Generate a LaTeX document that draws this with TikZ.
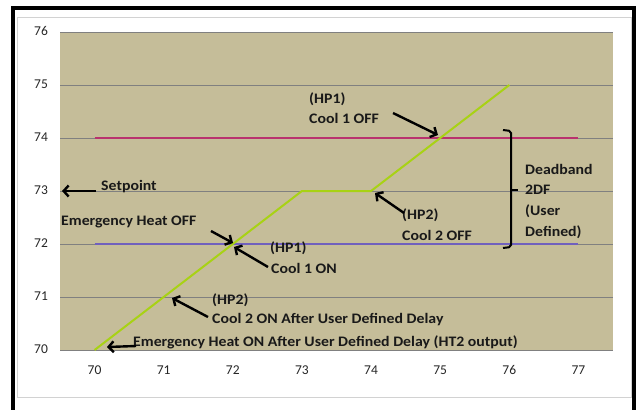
\documentclass[tikz,border=0pt]{standalone}
\usepackage{fontspec}
\setmainfont{Carlito}
\usetikzlibrary{arrows.meta}
\definecolor{khaki}{RGB}{197,189,153}
\definecolor{gridc}{RGB}{128,128,128}
\definecolor{pinkl}{RGB}{185,50,110}
\definecolor{bluel}{RGB}{112,96,190}
\definecolor{greenl}{RGB}{168,210,20}
\definecolor{framec}{RGB}{210,210,210}
\begin{document}
\begin{tikzpicture}[x=1pt,y=-1pt,
  declare function={X(\v)=60+69.125*(\v-69.5); Y(\v)=350-53*(\v-70);},
  lbl/.style={font=\fontsize{14.5}{16}\selectfont\bfseries, anchor=west, inner sep=0pt, text=black!90, xscale=1.09},
  tick/.style={font=\fontsize{13.5}{15}\selectfont, inner sep=0pt, text=black!85},
  arr/.style={line width=2.4pt, -{Straight Barb[length=5pt,width=11pt,line width=2.4pt]}},
  bracket/.style={line width=2pt, rounded corners=2pt}]
\useasboundingbox (0,0) rectangle (639,410);
\fill[white] (0,0) rectangle (639,410);
% black frame
\fill[black] (11,6) rectangle (636,10);
\fill[black] (11,6) rectangle (15,410);
\fill[black] (632,6) rectangle (636,410);
% chart frame
\draw[framec] (17,17) rectangle (631,397);
% plot area
\fill[khaki] (60,32) rectangle (613,350);
\foreach \v in {71,...,76} \draw[gridc, line width=0.8pt] (60,{Y(\v)}) -- (613,{Y(\v)});
\draw[gridc, line width=1pt] (60,350) -- (613,350);
% tick labels
\foreach \v in {70,...,76} \node[tick] (ty\v) at (41,{Y(\v)-1}) {\v};
\foreach \v in {70,...,77} \node[tick] (tx\v) at ({X(\v)},370) {\v};
% data lines
\draw[pinkl, line width=1.6pt] ({X(70)},{Y(74)}) -- ({X(77)},{Y(74)});
\draw[bluel, line width=1.6pt] ({X(70)},{Y(72)}) -- ({X(77)},{Y(72)});
\draw[greenl, line width=2pt, line join=round] ({X(70)},{Y(70)}) -- ({X(73)},{Y(73)}) -- ({X(74)},{Y(73)}) -- ({X(76)},{Y(75)});
% labels
\node[lbl] (hp1a) at (309,99) {(HP1)};
\node[lbl] (c1off) at (309,118) {Cool 1 OFF};
\node[lbl] (setp) at (101,187) {Setpoint};
\node[lbl] (ehoff) at (61,222) {Emergency Heat OFF};
\node[lbl] (hp1b) at (270,248) {(HP1)};
\node[lbl] (c1on) at (271,268) {Cool 1 ON};
\node[lbl] (hp2a) at (212,300) {(HP2)};
\node[lbl] (c2on) at (212,320) {Cool 2 ON After User Defined Delay};
\node[lbl] (ehon) at (133,342) {Emergency Heat ON After User Defined Delay (HT2 output)};
\node[lbl] (hp2b) at (402,215) {(HP2)};
\node[lbl] (c2off) at (402,235) {Cool 2 OFF};
\node[lbl] (db1) at (525,169) {Deadband};
\node[lbl] (db2) at (525,190) {2DF};
\node[lbl] (db3) at (525,211) {(User};
\node[lbl] (db4) at (525,232) {Defined)};
% arrow end points
\coordinate (a1t) at (393,113); \coordinate (a1h) at (438,135);
\coordinate (a2t) at (211,231); \coordinate (a2h) at (233,243);
\coordinate (a3t) at (268,267); \coordinate (a3h) at (234,247);
\coordinate (a4t) at (208,317); \coordinate (a4h) at (172,298);
\coordinate (a5t) at (136,346); \coordinate (a5h) at (107,347);
\coordinate (a6t) at (404,213); \coordinate (a6h) at (375,193);
\coordinate (a7t) at (96,191); \coordinate (a7h) at (62,191);
\draw[arr] (a1t) -- (a1h);
\draw[arr] (a2t) -- (a2h);
\draw[arr] (a3t) -- (a3h);
\draw[arr] (a4t) -- (a4h);
\draw[arr] (a5t) -- (a5h);
\draw[arr] (a6t) -- (a6h);
\draw[arr] (a7t) -- (a7h);
% bracket
\coordinate (b1) at (503,130); \coordinate (b2) at (511,131);
\coordinate (b3) at (511,247); \coordinate (b4) at (503,248);
\coordinate (bm) at (511,190); \coordinate (bt) at (518,190);
\draw[bracket] (b1) -- (b2) -- (b3) -- (b4);
\draw[line width=2pt] (bm) -- (bt);
\end{tikzpicture}
\end{document}
